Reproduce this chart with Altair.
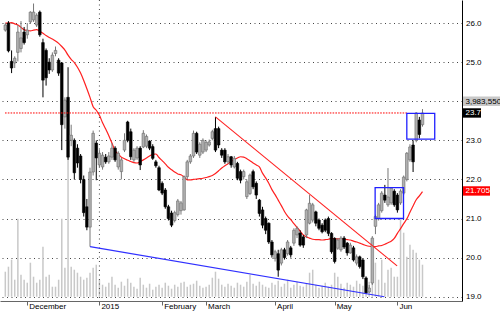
import altair as alt
import pandas as pd

FONT = "Liberation Sans"

# ---------------- data (index -1 .. 132, one entry per trading day) ----------------
first_idx = -1
opens = [25.82, 26.0, 25.02, 24.98, 25.25, 25.35, 25.77, 25.7, 26.03, 26.08,
         25.95, 26.28, 25.5, 25.3, 25.0, 24.8, 25.22, 25.05, 24.98, 23.6,
         24.1, 23.0, 23.0, 22.8, 22.6, 22.0, 21.3, 20.78, 22.19, 22.93,
         22.37, 22.32, 22.57, 22.45, 22.57, 22.8, 22.32, 22.2, 22.75, 23.47,
         23.22, 22.5, 22.55, 22.8, 22.83, 22.85, 22.98, 22.84, 22.45, 22.3,
         21.9, 21.73, 21.3, 21.14, 20.95, 21.1, 21.2, 21.22, 22.07, 22.45,
         22.6, 23.18, 22.62, 22.7, 22.75, 22.88, 23.05, 23.3, 23.3, 22.75,
         22.75, 22.45, 22.58, 22.32, 22.41, 22.2, 22.07, 21.56, 21.64, 22.2,
         21.9, 21.47, 21.22, 21.0, 20.88, 20.4, 19.98, 20.1, 19.86, 20.2,
         20.1, 20.25, 20.37, 20.58, 20.63, 20.53, 20.58, 20.88, 20.96, 21.17,
         20.96, 20.83, 20.96, 21.0, 20.62, 20.49, 20.24, 20.2, 20.5, 20.37,
         20.12, 20.25, 19.86, 20.02, 19.94, 19.48, 19.12, 19.35, 20.8, 21.0,
         21.2, 21.6, 21.35, 21.4, 21.7, 21.6, 21.4, 21.65, 22.0, 22.5,
         22.88, 23.0, 23.52, 23.4]
closes = [25.95, 25.29, 24.85, 25.1, 25.77, 25.62, 25.5, 25.82, 26.28, 26.28,
          26.2, 25.7, 24.54, 24.6, 24.8, 25.18, 25.3, 24.72, 23.4, 24.03,
          22.57, 23.13, 22.17, 22.42, 22.0, 21.15, 20.78, 22.19, 23.18, 22.55,
          22.67, 22.62, 22.45, 22.6, 22.8, 22.5, 22.67, 22.5, 23.0, 23.0,
          22.58, 22.75, 22.8, 22.37, 23.18, 23.1, 22.8, 22.54, 22.35, 21.73,
          21.65, 21.3, 21.0, 20.83, 21.15, 21.45, 21.4, 22.07, 22.45, 22.6,
          23.18, 22.7, 22.9, 23.0, 22.95, 22.96, 23.22, 22.75, 22.88, 22.62,
          22.45, 22.58, 22.37, 22.54, 22.03, 21.98, 22.2, 21.94, 22.11, 21.81,
          21.6, 21.13, 20.83, 20.7, 20.4, 20.07, 20.15, 19.68, 20.2, 20.0,
          20.4, 20.07, 20.7, 20.75, 20.32, 20.32, 21.22, 21.39, 21.35, 20.88,
          20.75, 20.66, 20.7, 20.62, 20.15, 19.9, 20.45, 20.5, 20.27, 20.12,
          20.32, 19.94, 20.02, 19.77, 19.51, 19.1, 19.22, 20.5, 21.05, 21.35,
          21.65, 21.47, 21.55, 21.78, 21.35, 21.22, 21.7, 22.06, 22.67, 22.83,
          22.45, 23.7, 23.15, 23.7]
highs = [26.0, 26.05, 25.3, 25.15, 25.95, 26.05, 25.9, 26.0, 26.3, 26.5,
         26.25, 26.32, 25.6, 25.35, 25.1, 25.25, 25.4, 25.1, 25.0, 24.1,
         24.87, 23.4, 23.05, 22.9, 22.65, 22.1, 21.5, 22.3, 23.25, 23.0,
         22.75, 22.7, 22.65, 22.7, 22.93, 22.85, 22.72, 22.55, 23.18, 23.5,
         23.3, 22.8, 22.85, 22.85, 23.26, 23.15, 23.0, 22.9, 22.5, 22.35,
         21.95, 21.78, 21.35, 21.2, 21.2, 21.5, 21.45, 22.1, 22.5, 22.65,
         23.25, 23.22, 22.95, 23.05, 23.0, 23.02, 23.27, 23.6, 23.35, 22.8,
         22.8, 22.65, 22.6, 22.6, 22.45, 22.25, 22.25, 22.0, 22.15, 22.25,
         21.95, 21.5, 21.3, 21.05, 20.9, 20.45, 20.2, 20.2, 20.25, 20.25,
         20.45, 20.3, 20.75, 20.8, 20.7, 20.58, 21.25, 21.6, 21.4, 21.2,
         21.0, 20.88, 21.0, 21.05, 20.65, 20.52, 20.5, 20.55, 20.55, 20.4,
         20.38, 20.3, 20.08, 20.05, 19.98, 19.52, 19.3, 20.55, 21.1, 21.4,
         21.7, 21.86, 22.29, 21.8, 21.75, 21.65, 21.75, 22.1, 22.7, 22.9,
         23.0, 23.72, 23.6, 23.8]
lows = [25.78, 25.25, 24.72, 24.85, 25.02, 25.25, 25.45, 25.6, 25.98, 26.03,
        25.9, 25.65, 24.1, 24.4, 24.7, 24.75, 25.15, 24.65, 22.75, 23.3,
        22.5, 22.85, 22.0, 22.3, 21.9, 21.05, 20.7, 20.28, 22.1, 21.98,
        22.3, 22.25, 22.4, 22.4, 22.5, 22.45, 22.25, 22.0, 22.7, 22.95,
        22.5, 22.45, 22.5, 22.24, 22.8, 22.8, 22.75, 22.5, 22.3, 21.7,
        21.6, 21.25, 20.95, 20.78, 20.9, 21.05, 21.1, 21.2, 22.0, 22.4,
        22.55, 22.65, 22.55, 22.65, 22.7, 22.84, 23.0, 22.7, 22.8, 22.55,
        22.4, 22.4, 22.3, 22.28, 21.98, 21.9, 22.0, 21.5, 21.6, 21.75,
        21.5, 21.05, 20.75, 20.6, 20.35, 20.0, 19.9, 19.51, 19.8, 19.95,
        20.05, 20.0, 20.3, 20.5, 20.28, 20.25, 20.5, 20.85, 20.9, 20.8,
        20.7, 20.62, 20.65, 20.55, 20.1, 19.85, 20.2, 20.15, 20.22, 20.05,
        20.1, 19.9, 19.8, 19.72, 19.45, 19.07, 19.1, 19.3, 20.6, 20.95,
        21.15, 21.4, 21.3, 21.35, 21.3, 21.15, 21.35, 21.6, 21.95, 22.45,
        22.19, 22.95, 23.05, 23.35]
volume_k = [500, 600, 740, 340, 1560, 440, 340, 280, 680, 400,
            280, 340, 1000, 400, 440, 200, 200, 340, 1560, 580,
            2800, 600, 540, 480, 400, 340, 380, 480, 580, 640,
            340, 240, 200, 280, 400, 240, 180, 300, 220, 360,
            280, 200, 160, 380, 240, 180, 260, 140, 200, 240,
            180, 280, 220, 160, 240, 200, 280, 300, 200, 240,
            260, 320, 220, 180, 200, 240, 380, 500, 360, 240,
            200, 260, 220, 180, 280, 240, 200, 300, 440, 260,
            220, 300, 240, 200, 180, 280, 240, 320, 200, 260,
            340, 180, 240, 300, 220, 200, 260, 480, 540, 240,
            180, 220, 280, 200, 240, 480, 400, 260, 180, 280,
            240, 200, 320, 260, 220, 140, 300, 400, 680, 340,
            740, 280, 540, 580, 400, 400, 1540, 1280, 800, 1040,
            940, 880, 740, 640]
ma20 = [26.0, 26.0, 26.01, 25.98, 25.95, 25.89, 25.83, 25.81, 25.8, 25.82,
        25.83, 25.79, 25.74, 25.68, 25.63, 25.59, 25.54, 25.48, 25.4, 25.31,
        25.18, 25.07, 24.99, 24.87, 24.72, 24.53, 24.32, 24.1, 23.86, 23.77,
        23.64, 23.45, 23.29, 23.12, 22.93, 22.73, 22.65, 22.57, 22.53, 22.49,
        22.46, 22.43, 22.42, 22.45, 22.5, 22.55, 22.6, 22.64, 22.65, 22.56,
        22.48, 22.4, 22.31, 22.25, 22.19, 22.14, 22.12, 22.06, 21.99, 21.99,
        22.0, 22.01, 22.02, 22.03, 22.05, 22.07, 22.1, 22.15, 22.22, 22.29,
        22.35, 22.4, 22.46, 22.51, 22.55, 22.58, 22.57, 22.53, 22.48, 22.42,
        22.37, 22.32, 22.16, 22.04, 21.9, 21.74, 21.61, 21.47, 21.33, 21.18,
        21.06, 20.97, 20.87, 20.77, 20.68, 20.58, 20.53, 20.5, 20.47, 20.46,
        20.46, 20.45, 20.46, 20.47, 20.49, 20.48, 20.48, 20.48, 20.47, 20.46,
        20.45, 20.42, 20.4, 20.37, 20.34, 20.31, 20.29, 20.28, 20.28, 20.3,
        20.31, 20.34, 20.38, 20.42, 20.49, 20.62, 20.74, 20.87, 20.99, 21.16,
        21.32, 21.48, 21.58, 21.69]

month_idx = [6, 29, 49, 63, 85, 104, 124]
month_names = ["December", "2015", "February", "March", "April", "May", "Jun"]
price_ticks = [19, 20, 21, 22, 23, 24, 25, 26]
year_start_idx = [29]

line_i0 = [26, 66]
line_i1 = [119.8, 123.9]
line_p0 = [20.28, 23.6]
line_p1 = [19.0, 19.79]
line_col = ["#3030ff", "#ff2020"]

box_i0 = [116.9, 127.0]
box_i1 = [125.95, 135.9]
box_lo = [21.0, 23.03]
box_hi = [21.79, 23.69]

alert_level = [23.7]
alert_end_idx = [127.0]

tag_texts = ["3,983,550", "23.7", "21.705"]
tag_levels = [24.0, 23.7, 21.705]
tag_fill = ["#c8c8c8", "#000000", "#ff0000"]
tag_color = ["#000000", "#ffffff", "#ffffff"]
tag_right = [500, 481, 490]

X_MIN, X_MAX = -1.1, 143.0

# ---------------- chart ----------------
n = len(opens)
df = pd.DataFrame({
    "idx": list(range(first_idx, first_idx + n)),
    "open": opens, "high": highs, "low": lows, "close": closes,
    "vol": volume_k, "ma": ma20,
})

xs = alt.Scale(domain=[X_MIN, X_MAX], nice=False, zero=False)
ps = alt.Scale(domain=[18.89, 26.59], nice=False, zero=False)
vs = alt.Scale(domain=[-86, 5934], nice=False, zero=False)

lbl_expr = " : ".join(f"datum.value == {i} ? '{m}'" for i, m in zip(month_idx, month_names)) + " : ''"
x_axis = alt.Axis(values=month_idx, labelExpr=lbl_expr, title=None, grid=False,
                  ticks=True, tickSize=4, tickColor="#666666", domainColor="#666666",
                  labelAlign="left", labelBaseline="alphabetic", labelPadding=3.3,
                  labelOffset=1.5, labelFontSize=8, labelFont=FONT, labelColor="#000000",
                  labelOverlap=False, labelFlush=False)
y_axis = alt.Axis(orient="right", values=price_ticks,
                  labelExpr="datum.value == 24 ? '' : format(datum.value, '.1f')",
                  title=None, grid=True, gridDash=[1, 3.5], gridColor="#444444",
                  ticks=False, tickSize=0, domainColor="#000000",
                  labelFontSize=8, labelFont=FONT, labelColor="#000000", labelPadding=3.5)


def X(f):
    return alt.X(f"{f}:Q", scale=xs, axis=x_axis)


def Y(f):
    return alt.Y(f"{f}:Q", scale=ps, axis=y_axis)


up = "datum.close >= datum.open"
base = alt.Chart(df)

vol = base.mark_rule(color="#c8c8c8", strokeWidth=1.5).encode(
    x=X("idx"), y=alt.Y("vol:Q", scale=vs, axis=None), y2=alt.datum(0))

year_rule = alt.Chart(pd.DataFrame({"idx": year_start_idx})).mark_rule(
    color="#444444", strokeDash=[1, 3.5]).encode(x=X("idx"))

ma_line = base.mark_line(color="#ff2020", strokeWidth=1.2, interpolate="monotone").encode(
    x=X("idx"), y=Y("ma"))

wick = base.mark_rule(strokeWidth=1).encode(
    x=X("idx"), y=Y("low"), y2="high",
    color=alt.condition(up, alt.value("#777777"), alt.value("#000000")))

body = base.mark_bar(size=2.6, strokeWidth=0.6).encode(
    x=X("idx"), y=Y("open"), y2="close",
    fill=alt.condition(up, alt.value("#b0b0b0"), alt.value("#000000")),
    stroke=alt.condition(up, alt.value("#6a6a6a"), alt.value("#000000")))

tl_df = pd.DataFrame({"idx": line_i0, "idx2": line_i1, "p": line_p0, "p2": line_p1, "c": line_col})
trend = alt.Chart(tl_df).mark_rule(strokeWidth=1.1).encode(
    x=X("idx"), x2="idx2", y=Y("p"), y2="p2", color=alt.Color("c:N", scale=None))

al_df = pd.DataFrame({"idx": [X_MIN], "idx2": alert_end_idx, "lvl": alert_level})
alert = alt.Chart(al_df).mark_rule(color="#ff0000", strokeDash=[1.6, 1.2], strokeWidth=1).encode(
    x=X("idx"), x2="idx2", y=Y("lvl"))

bx_df = pd.DataFrame({"idx": box_i0, "idx2": box_i1, "lo": box_lo, "hi": box_hi})
boxes = alt.Chart(bx_df).mark_rect(fillOpacity=0, stroke="#2020ff", strokeWidth=1.3).encode(
    x=X("idx"), x2="idx2", y=Y("lo"), y2="hi")

tag_layers = []
for t, lv, fc, tc, xr in zip(tag_texts, tag_levels, tag_fill, tag_color, tag_right):
    tdf = pd.DataFrame({"t": [t], "lvl": [lv], "lo": [lv - 0.12], "hi": [lv + 0.12]})
    tag_layers.append(alt.Chart(tdf).mark_rect(color=fc).encode(
        x=alt.value(463), x2=alt.value(xr), y=Y("lo"), y2="hi"))
    tag_layers.append(alt.Chart(tdf).mark_text(
        align="left", baseline="middle", fontSize=8, font=FONT, color=tc, dy=0.5).encode(
        x=alt.value(465.5), y=Y("lvl"), text="t:N"))

price = alt.layer(year_rule, ma_line, wick, body, trend, alert, boxes, *tag_layers)

chart = alt.layer(vol, price).resolve_scale(y="independent").properties(
    width=462, height=301,
    padding={"left": 0, "top": 0, "right": 38, "bottom": 11},
    autosize=alt.AutoSizeParams(type="none"),
    background="white",
).configure_view(stroke=None)

chart.save("out.html", embed_options={"renderer": "svg", "actions": False})
